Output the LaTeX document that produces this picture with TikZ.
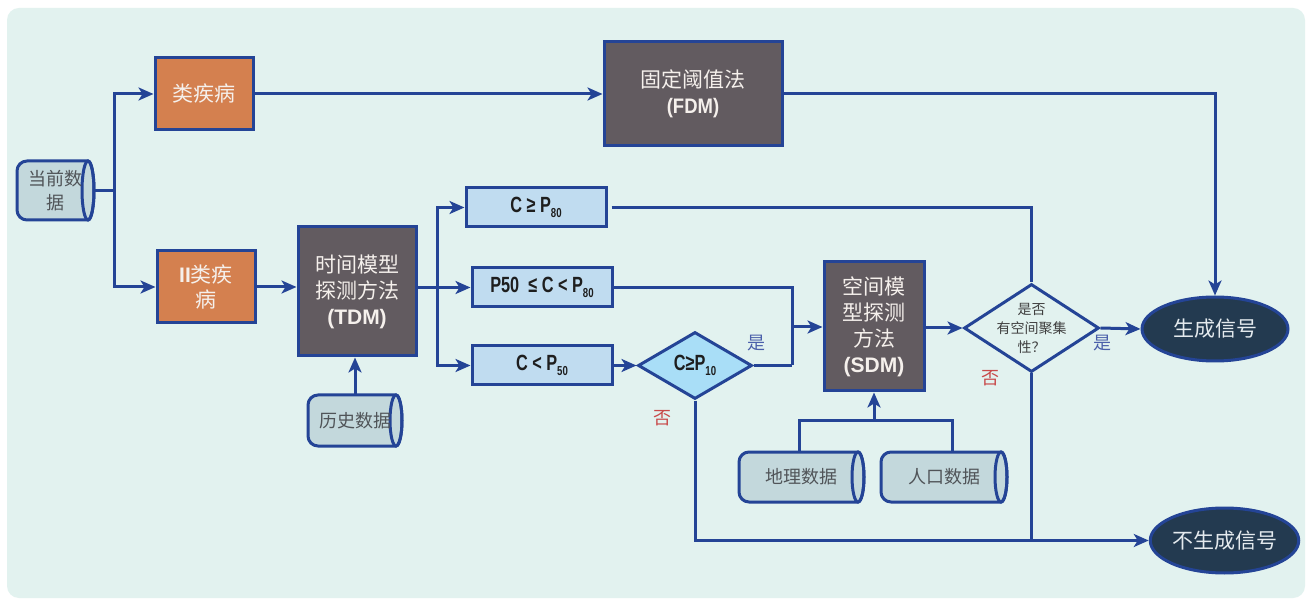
\documentclass[tikz,border=0pt]{standalone}
\usepackage{fontspec}
\usepackage{graphicx}
\setmainfont{Liberation Sans}
\newfontfamily\cjk{Noto Sans CJK SC}
\usetikzlibrary{arrows.meta,shapes.geometric,calc}
\definecolor{lineblue}{RGB}{36,68,150}
\definecolor{bgfill}{RGB}{226,242,239}
\definecolor{orangefill}{RGB}{212,128,79}
\definecolor{darkfill}{RGB}{98,91,96}
\definecolor{condfill}{RGB}{192,220,240}
\definecolor{diafill}{RGB}{169,222,247}
\definecolor{cylfill}{RGB}{195,216,220}
\definecolor{ovalfill}{RGB}{35,58,80}
\definecolor{lighttext}{RGB}{245,240,236}
\definecolor{ovaltext}{RGB}{228,234,238}
\definecolor{cyltext}{RGB}{80,84,88}
\definecolor{labeltext}{RGB}{30,30,30}
\definecolor{yesblue}{RGB}{74,95,170}
\definecolor{nored}{RGB}{200,74,74}
\newcommand\cond[1]{\scalebox{0.74}[1]{#1}}
\newcommand\lowsub[1]{\raisebox{-5pt}{\fontsize{13}{13}\selectfont #1}}
\newcommand\cylpath[4]{%
  \pgfmathsetmacro\cylcx{#3-6}%
  \pgfmathsetmacro\cylcy{(#2+#4)/2}%
  \pgfmathsetmacro\cylry{(#4-#2)/2}%
  \draw[cylline, fill=cylfill] (\cylcx,#2) -- ({#1+10},#2) arc[start angle=90,end angle=180,radius=10pt] -- (#1,{#4-10}) arc[start angle=180,end angle=270,radius=10pt] -- (\cylcx,#4) arc[start angle=-90,end angle=90,x radius=6pt,y radius={\cylry pt}] -- cycle;
  \draw[cylline] (\cylcx,\cylcy) ellipse[x radius=6pt, y radius={\cylry pt}];
}
\tikzset{
  conn/.style={draw=lineblue, line width=3pt},
  arr/.style={conn, -{Stealth[length=15pt,width=13pt,inset=4pt]}},
  cylline/.style={draw=lineblue, line width=3pt},
  orangebox/.style={draw=lineblue, fill=orangefill, line width=3pt, text=lighttext, font=\cjk\fontsize{21}{25}\selectfont, align=center, inner sep=0pt},
  darkbox/.style={draw=lineblue, fill=darkfill, line width=3pt, text=lighttext, font=\cjk\fontsize{21}{26}\selectfont, align=center, inner sep=0pt},
  condbox/.style={draw=lineblue, fill=condfill, line width=3pt, text=labeltext, font=\bfseries\fontsize{22}{24}\selectfont, inner sep=0pt, minimum width=140pt, minimum height=39pt},
  cylnode/.style={text=cyltext, font=\cjk\fontsize{18}{24}\selectfont, align=center, inner sep=0pt},
  oval/.style={ellipse, draw=lineblue, fill=ovalfill, line width=3pt, text=ovaltext, font=\cjk\fontsize{21}{25}\selectfont, inner sep=0pt},
  yeslab/.style={text=yesblue, font=\cjk\fontsize{18}{20}\selectfont, inner sep=0pt},
  nolab/.style={text=nored, font=\cjk\fontsize{18}{20}\selectfont, inner sep=0pt},
}
\begin{document}
\begin{tikzpicture}[x=1pt,y=-1pt]
\useasboundingbox (0,0) rectangle (1309,601);
\fill[white] (0,0) rectangle (1309,601);
\fill[bgfill, rounded corners=12pt] (7,8) rectangle (1305,598);

% cylinders
\cylpath{17}{161}{94}{220}
\cylpath{308}{395}{402}{446}
\cylpath{739}{452}{864}{502}
\cylpath{881}{452}{1007}{502}

\node[cylnode, minimum width=77pt, minimum height=59pt] (cur) at (55.5,190.5) {当前数\\据};
\node[cylnode, minimum width=94pt, minimum height=51pt] (hist) at (355,420.5) {历史数据};
\node[cylnode, minimum width=125pt, minimum height=50pt] (geo) at (801.5,477) {地理数据};
\node[cylnode, minimum width=126pt, minimum height=50pt] (pop) at (944,477) {人口数据};

% boxes
\node[orangebox, minimum width=98pt, minimum height=72pt] (c1) at (204,94) {类疾病};
\node[orangebox, minimum width=98pt, minimum height=72pt] (c2) at (206,287) {{\fontspec{Liberation Sans}\bfseries II}类疾\\病};
\node[darkbox, minimum width=118pt, minimum height=129pt] (tdm) at (357,291.5) {时间模型\\探测方法\\{\fontspec{Liberation Sans}\bfseries (TDM)}};
\node[darkbox, minimum width=178pt, minimum height=104pt] (fdm) at (693,94) {固定阈值法\\{\fontspec{Liberation Sans}\bfseries\scalebox{0.88}[1]{(FDM)}}};
\node[darkbox, minimum width=100pt, minimum height=129pt] (sdm) at (874,326.5) {空间模\\型探测\\方法\\{\fontspec{Liberation Sans}\bfseries (SDM)}};

\node[condbox] (b1) at (536,207.5) {\cond{C ≥ P\lowsub{80}}};
\node[condbox] (b2) at (542,287.5) {\cond{P50 \ ≤ C < P\lowsub{80}}};
\node[condbox] (b3) at (542,365.5) {\cond{C < P\lowsub{50}}};

\node[diamond, aspect=1.7, draw=lineblue, fill=diafill, line width=3pt, minimum width=114pt, minimum height=67pt, inner sep=0pt, text=labeltext, font=\bfseries\fontsize{22}{24}\selectfont] (d1) at (695,365.5) {\cond{C≥P\lowsub{10}}};
\node[diamond, aspect=1.53, draw=lineblue, line width=3pt, minimum width=135pt, minimum height=88pt, inner sep=0pt] (d2) at (1031.5,328) {};
\node[text=labeltext!85, font=\cjk\fontsize{14}{19}\selectfont, align=center, inner sep=0pt] (d2t) at (d2) {是否\\有空间聚集\\性？};

\node[oval, minimum width=146pt, minimum height=64pt] (sig) at (1215,329) {生成信号};
\node[oval, minimum width=147pt, minimum height=65pt] (nosig) at (1224.5,540.5) {不生成信号};

% labels
\node[yeslab] (y1) at (756,343) {是};
\node[nolab] (n1) at (662,418) {否};
\node[yeslab] (y2) at (1102,343) {是};
\node[nolab] (n2) at (990,378) {否};

% connectors
\coordinate (j1) at (114,190.5);
\draw[conn] (cur.east) -- (j1);
\draw[arr] (j1) |- (c1.west);
\draw[arr] (j1) |- (c2.west);
\draw[arr] (c1.east) -- (fdm.west);
\draw[arr] (c2.east) -- (c2.east -| tdm.west);
\draw[arr] (hist.north) -- (hist.north |- tdm.south);
\draw[arr] (fdm.east) -| (sig.north);

\coordinate (j2) at (437,287.5);
\draw[conn] (tdm.east |- j2) -- (j2);
\draw[arr] (j2) |- (b1.west);
\draw[arr] (j2) -- (b2.west);
\draw[arr] (j2) |- (b3.west);

\draw[conn, shorten <=4pt] (b1.east) -| (d2.north);
\coordinate (j3) at (792,327);
\coordinate (j4) at (792,365.5);
\draw[conn] (b2.east) -| (j4);
\draw[conn] (d1.east) -- (j4);
\draw[arr] (j3) -- (j3 -| sdm.west);
\draw[arr] (b3.east) -- (d1.west);
\draw[arr] (d1.south) |- (nosig.west);
\draw[arr] (sdm.east |- d2.west) -- (d2.west);
\draw[arr] (d2.east) -- (sig.west);
\draw[conn] (d2.south) -- (d2.south |- nosig.west);

\coordinate (j5) at (874,420);
\draw[conn] ([xshift=-2pt]geo.north) |- (j5);
\draw[conn] ([xshift=8pt]pop.north) |- (j5);
\draw[arr] (j5) -- (sdm.south);
\end{tikzpicture}
\end{document}
